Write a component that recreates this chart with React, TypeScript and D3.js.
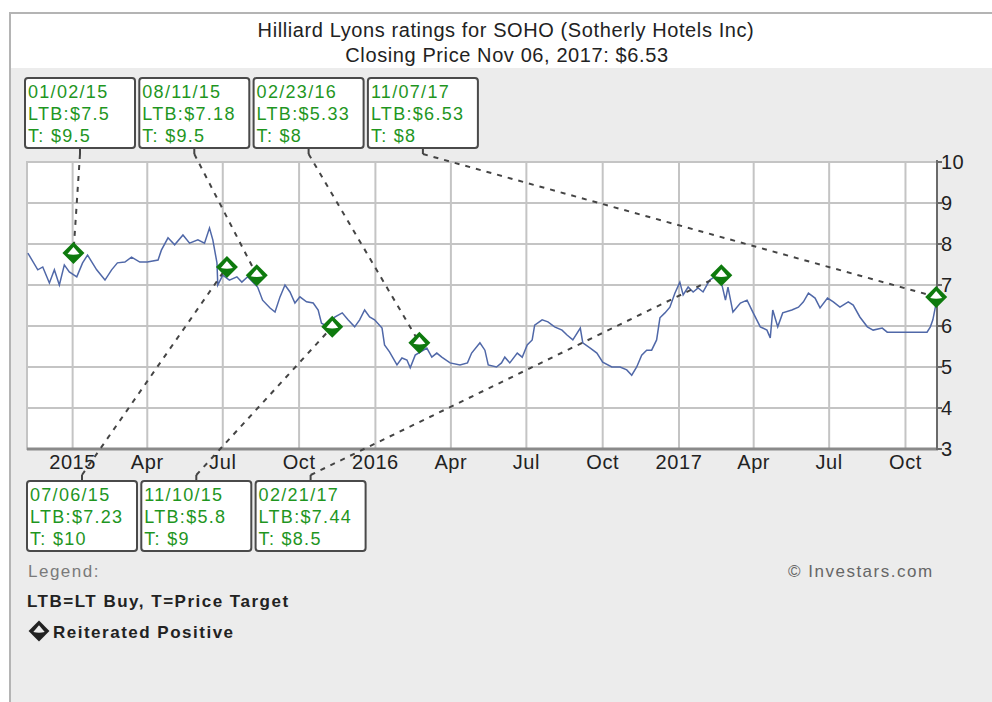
import React from 'react';
import * as d3 from 'd3';

// closing prices
const priceDates = [
  '2014-11-08', '2014-11-20', '2014-11-26', '2014-12-04', '2014-12-10', '2014-12-16', '2014-12-22', '2014-12-28',
  '2015-01-06', '2015-01-13', '2015-01-19', '2015-01-30', '2015-02-09', '2015-02-17', '2015-02-24', '2015-03-05',
  '2015-03-13', '2015-03-23', '2015-04-01', '2015-04-14', '2015-04-18', '2015-04-26', '2015-05-04', '2015-05-14',
  '2015-05-22', '2015-06-01', '2015-06-09', '2015-06-15', '2015-06-19', '2015-06-24', '2015-06-25', '2015-07-01',
  '2015-07-09', '2015-07-18', '2015-07-24', '2015-07-31', '2015-08-12', '2015-08-18', '2015-08-27', '2015-09-02',
  '2015-09-08', '2015-09-14', '2015-09-20', '2015-09-26', '2015-10-02', '2015-10-10', '2015-10-18', '2015-10-24',
  '2015-10-28', '2015-11-05', '2015-11-13', '2015-11-22', '2015-11-29', '2015-12-07', '2015-12-13', '2015-12-19',
  '2015-12-25', '2015-12-31', '2016-01-09', '2016-01-12', '2016-01-18', '2016-01-27', '2016-02-02', '2016-02-08',
  '2016-02-12', '2016-02-18', '2016-03-03', '2016-03-09', '2016-03-15', '2016-03-21', '2016-03-31', '2016-04-12',
  '2016-04-21', '2016-04-26', '2016-05-06', '2016-05-12', '2016-05-16', '2016-05-26', '2016-06-01', '2016-06-05',
  '2016-06-11', '2016-06-20', '2016-06-26', '2016-07-02', '2016-07-08', '2016-07-11', '2016-07-20', '2016-07-27',
  '2016-08-04', '2016-08-13', '2016-08-19', '2016-08-26', '2016-09-04', '2016-09-07', '2016-09-16', '2016-09-24',
  '2016-10-01', '2016-10-12', '2016-10-22', '2016-10-30', '2016-11-05', '2016-11-11', '2016-11-17', '2016-11-23',
  '2016-11-29', '2016-12-05', '2016-12-09', '2016-12-15', '2016-12-21', '2016-12-27', '2017-01-02', '2017-01-06',
  '2017-01-12', '2017-01-18', '2017-01-24', '2017-01-30', '2017-02-07', '2017-02-16', '2017-02-19', '2017-02-26',
  '2017-03-01', '2017-03-07', '2017-03-16', '2017-03-24', '2017-03-31', '2017-04-09', '2017-04-17', '2017-04-21',
  '2017-04-24', '2017-04-30', '2017-05-06', '2017-05-17', '2017-05-25', '2017-05-31', '2017-06-06', '2017-06-14',
  '2017-06-20', '2017-06-29', '2017-07-06', '2017-07-14', '2017-07-24', '2017-07-30', '2017-08-07', '2017-08-16',
  '2017-08-23', '2017-09-03', '2017-09-09', '2017-09-16', '2017-09-28', '2017-10-10', '2017-10-19', '2017-10-27',
  '2017-10-31', '2017-11-03', '2017-11-07'
];
const closePrices = [
  7.78, 7.37, 7.44, 7.05, 7.37, 7.0, 7.49, 7.32,
  7.2, 7.54, 7.73, 7.37, 7.12, 7.37, 7.54, 7.56,
  7.68, 7.56, 7.56, 7.61, 7.85, 8.15, 7.98, 8.22,
  8.02, 8.1, 8.02, 8.39, 8.1, 7.54, 7.0, 7.24,
  7.12, 7.2, 7.07, 7.2, 6.95, 6.63, 6.44, 6.34,
  6.71, 7.0, 6.83, 6.56, 6.71, 6.59, 6.56, 6.39,
  6.07, 5.98, 6.22, 6.32, 6.15, 5.98, 6.15, 6.39,
  6.22, 6.15, 5.95, 5.54, 5.37, 5.05, 5.22, 5.17,
  4.98, 5.29, 5.46, 5.24, 5.34, 5.24, 5.1, 5.05,
  5.1, 5.34, 5.59, 5.41, 5.05, 5.0, 5.1, 5.24,
  5.1, 5.34, 5.24, 5.54, 5.66, 6.02, 6.15, 6.1,
  5.98, 5.9, 5.78, 5.66, 5.95, 5.59, 5.46, 5.34,
  5.12, 5.0, 5.0, 4.93, 4.8, 5.0, 5.29, 5.41,
  5.41, 5.66, 6.2, 6.32, 6.46, 6.8, 7.07, 6.76,
  6.95, 6.83, 6.93, 6.83, 7.12, 7.24, 7.24, 6.63,
  6.95, 6.34, 6.56, 6.63, 6.34, 5.98, 5.9, 5.71,
  6.39, 5.98, 6.32, 6.39, 6.46, 6.59, 6.8, 6.68,
  6.44, 6.68, 6.59, 6.46, 6.59, 6.51, 6.22, 5.98,
  5.9, 5.95, 5.85, 5.85, 5.85, 5.85, 5.85, 5.85,
  5.98, 6.15, 6.56
];

// analyst ratings
const ratingDates = ['2015-01-02', '2015-07-06', '2015-08-11', '2015-11-10', '2016-02-23', '2017-02-21', '2017-11-07'];
const ratingLabels = ['01/02/15', '07/06/15', '08/11/15', '11/10/15', '02/23/16', '02/21/17', '11/07/17'];
const ltbPrices = ['7.5', '7.23', '7.18', '5.8', '5.33', '7.44', '6.53'];
const targetPrices = ['9.5', '10', '9.5', '9', '8', '8.5', '8'];
const markerPrices = [7.78, 7.44, 7.24, 5.98, 5.59, 7.24, 6.71];
const boxRows = ['top', 'bottom', 'top', 'bottom', 'top', 'bottom', 'top'];

const yTicks = [3, 4, 5, 6, 7, 8, 9, 10];
const xTickDates = [
  '2015-01-01', '2015-04-01', '2015-07-01', '2015-10-01', '2016-01-01', '2016-04-01',
  '2016-07-01', '2016-10-01', '2017-01-01', '2017-04-01', '2017-07-01', '2017-10-01'
];
const xTickLabels = ['2015', 'Apr', 'Jul', 'Oct', '2016', 'Apr', 'Jul', 'Oct', '2017', 'Apr', 'Jul', 'Oct'];

const parse = d3.timeParse('%Y-%m-%d');

const left = 27, right = 937, top = 162, bottom = 449;
const green = '#1f961f';
const markerGreen = '#0e7a0e';
const font = '"Liberation Sans", Arial, sans-serif';

function Diamond({ x, y, color }) {
  return (
    <g transform={`translate(${x},${y})`}>
      <path d="M0,-11L11,0L0,11L-11,0Z" fill={color} />
      <path d="M-6,1L0,-6L6,1Q0,2.5,-6,1Z" fill="#fff" />
    </g>
  );
}

export default function App() {
  const x = d3.scaleTime()
    .domain([parse('2014-11-07'), parse('2017-11-08')])
    .range([left, right]);
  const y = d3.scaleLinear().domain([3, 10]).range([bottom, top]);

  const series = priceDates.map((d, i) => ({ date: parse(d), value: closePrices[i] }));
  const line = d3.line().x(d => x(d.date)).y(d => y(d.value));

  const boxW = 110, boxH = 70;
  let topIdx = 0, botIdx = 0;
  const notes = ratingDates.map((d, i) => {
    const row = boxRows[i];
    const slot = row === 'top' ? topIdx++ : botIdx++;
    const bx = (row === 'top' ? 25 : 27) + slot * 114.3;
    const by = row === 'top' ? 78 : 481;
    return {
      bx, by, row,
      label: ratingLabels[i], ltb: ltbPrices[i], target: targetPrices[i],
      mx: x(parse(d)), my: y(markerPrices[i]),
    };
  });

  return (
    <div>
      <style>{'body{margin:0}'}</style>
      <svg width={992} height={702} style={{ display: 'block', fontFamily: font }}>
        <rect x={0} y={0} width={992} height={702} fill="#fff" />
        <rect x={10} y={13} width={990} height={700} fill="#ececec" stroke="#b4b4b4" strokeWidth={2} />
        <rect x={11} y={14} width={981} height={54} fill="#fff" />

        <text x={506} y={37} textAnchor="middle" fontSize={20} fill="#222" style={{ letterSpacing: '0.6px' }}>
          Hilliard Lyons ratings for SOHO (Sotherly Hotels Inc)
        </text>
        <text x={507} y={62} textAnchor="middle" fontSize={20} fill="#222" style={{ letterSpacing: '0.6px' }}>
          Closing Price Nov 06, 2017: $6.53
        </text>

        {/* plot */}
        <rect x={left} y={top} width={right - left} height={bottom - top} fill="#fff" stroke="#c4c4c4" strokeWidth={2} />
        {yTicks.map(t => (
          <line key={'gy' + t} x1={left} x2={right} y1={y(t)} y2={y(t)} stroke="#c4c4c4" strokeWidth={2} />
        ))}
        {xTickDates.map(t => (
          <line key={'gx' + t} x1={x(parse(t))} x2={x(parse(t))} y1={top} y2={bottom} stroke="#c4c4c4" strokeWidth={2} />
        ))}
        <line x1={left} x2={right + 1} y1={bottom} y2={bottom} stroke="#8a8a8a" strokeWidth={3} />
        <line x1={right} x2={right} y1={top - 2} y2={bottom + 1} stroke="#6a6a6a" strokeWidth={2} />
        {yTicks.map(t => (
          <g key={'yt' + t}>
            <line x1={right} x2={right + 5} y1={y(t)} y2={y(t)} stroke="#6a6a6a" strokeWidth={2} />
            <text x={941} y={y(t) + 7} fontSize={20} fill="#222" style={{ letterSpacing: '0.5px' }}>{t}</text>
          </g>
        ))}
        {xTickDates.map((t, i) => (
          <text key={'xt' + t} x={x(parse(t))} y={469} textAnchor="middle" fontSize={20} fill="#222"
            style={{ letterSpacing: '0.6px' }}>
            {xTickLabels[i]}
          </text>
        ))}

        <path d={line(series)} fill="none" stroke="#5068a8" strokeWidth={1.5} />

        {/* connectors */}
        {notes.map((n, i) => {
          const cx = n.bx + 55;
          const y0 = n.row === 'top' ? n.by + boxH : n.by;
          const y1 = n.row === 'top' ? y0 + 6 : y0 - 6;
          return (
            <g key={'c' + i}>
              <line x1={cx} x2={cx} y1={y0} y2={y1} stroke="#444" strokeWidth={2} />
              <line x1={cx} y1={y1} x2={n.mx} y2={n.my} stroke="#444" strokeWidth={2} strokeDasharray="5,6" />
            </g>
          );
        })}
        {notes.map((n, i) => <Diamond key={'m' + i} x={n.mx} y={n.my} color={markerGreen} />)}

        {/* rating boxes */}
        {notes.map((n, i) => (
          <g key={'b' + i}>
            <rect x={n.bx} y={n.by} width={boxW} height={boxH} rx={3} fill="#fff" stroke="#4a4a4a" strokeWidth={2} />
            <text fontSize={18} fill={green} style={{ letterSpacing: '1.3px' }}>
              <tspan x={n.bx + 3} y={n.by + 20}>{n.label}</tspan>
              <tspan x={n.bx + 3} y={n.by + 42}>{'LTB:$' + n.ltb}</tspan>
              <tspan x={n.bx + 3} y={n.by + 64}>{'T: $' + n.target}</tspan>
            </text>
          </g>
        ))}

        {/* legend */}
        <text x={28} y={577} fontSize={17} fill="#7a7a7a" style={{ letterSpacing: '1.5px' }}>Legend:</text>
        <text x={27} y={607} fontSize={17} fontWeight="bold" fill="#222" style={{ letterSpacing: '1.5px' }}>
          LTB=LT Buy, T=Price Target
        </text>
        <g transform="translate(39,631) scale(0.95)">
          <path d="M0,-11L11,0L0,11L-11,0Z" fill="#222" />
          <path d="M-6,1L0,-6L6,1Q0,2.5,-6,1Z" fill="#ececec" />
        </g>
        <text x={53} y={638} fontSize={17} fontWeight="bold" fill="#222" style={{ letterSpacing: '1.5px' }}>
          Reiterated Positive
        </text>
        <text x={788} y={577} fontSize={17} fill="#666" style={{ letterSpacing: '1.5px' }}>© Investars.com</text>
      </svg>
    </div>
  );
}
